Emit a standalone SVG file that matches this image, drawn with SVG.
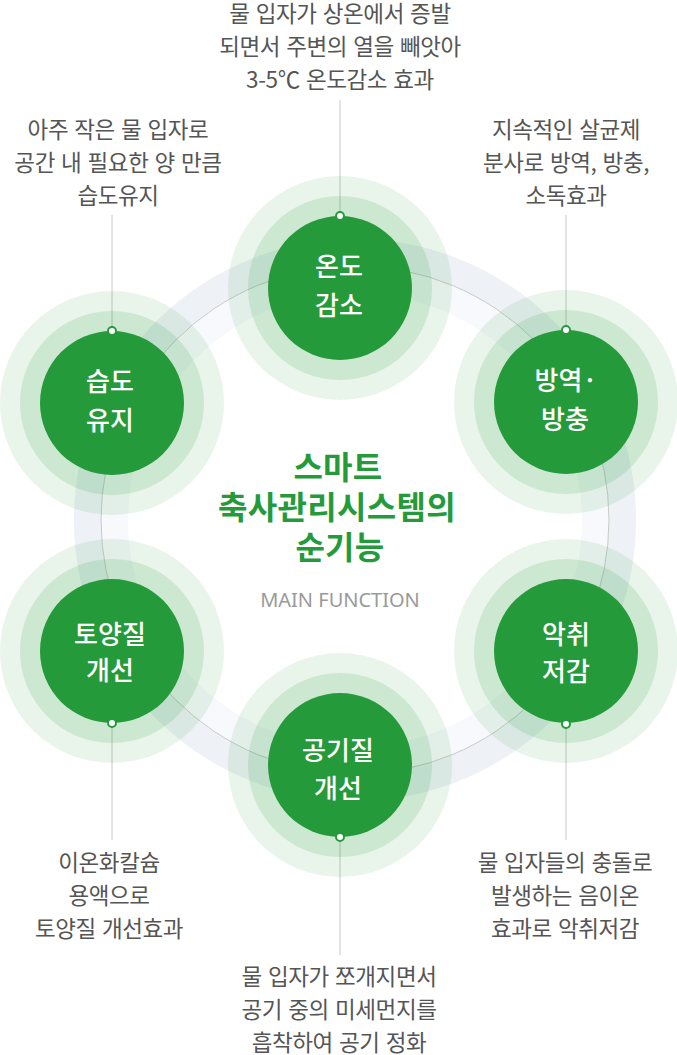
<svg xmlns="http://www.w3.org/2000/svg" width="677" height="1055" viewBox="0 0 677 1055">
<style>
.d{font-family:"Noto Sans CJK KR","Noto Sans",sans-serif;font-size:22.5px;fill:#555;letter-spacing:-0.4px;word-spacing:1.5px;text-anchor:middle}
.n{font-family:"Noto Sans CJK KR","Noto Sans",sans-serif;font-size:26px;font-weight:500;fill:#fff;text-anchor:middle}
.t{font-family:"Noto Sans CJK KR","Noto Sans",sans-serif;font-size:32px;font-weight:700;fill:#259a3b;text-anchor:middle;letter-spacing:0.3px}
.m{font-family:"Noto Sans","Liberation Sans",sans-serif;font-size:20px;fill:#9a9a9a;text-anchor:middle}
.h1{fill:#259a3b;fill-opacity:.1}
.h2{fill:#259a3b;fill-opacity:.14}
.c{fill:#259a3b}
.dot{fill:#fff;stroke:#259a3b;stroke-width:2}
.ln{stroke:#c8c8c8;stroke-width:1;fill:none}
</style>
<rect width="677" height="1055" fill="#fff"/>
<g id="ring">
<circle cx="355" cy="520" r="267.5" fill="none" stroke="#eef1f6" stroke-width="27"/>
<circle cx="355" cy="520" r="240.5" fill="none" stroke="#f7f9fc" stroke-width="27"/>
<circle cx="355" cy="520" r="254" fill="none" stroke="#c9c9c9" stroke-width="1"/>
</g>
<g id="connectors">
<line class="ln" x1="340" y1="100" x2="340" y2="212"/>
<line class="ln" x1="112" y1="215" x2="112" y2="327"/>
<line class="ln" x1="566" y1="215" x2="566" y2="326"/>
<line class="ln" x1="112" y1="727" x2="112" y2="840"/>
<line class="ln" x1="566" y1="728" x2="566" y2="840"/>
<line class="ln" x1="340" y1="841" x2="340" y2="955"/>
</g>
<g id="node-temp">
<circle class="h1" cx="340" cy="288" r="112"/>
<circle class="h2" cx="340" cy="288" r="92"/>
<circle class="c" cx="340" cy="288" r="72"/>
<circle class="dot" cx="340" cy="216" r="4"/>
<text class="n" x="339" y="276">온도</text>
<text class="n" x="339" y="315">감소</text>
</g>
<g id="node-humidity">
<circle class="h1" cx="112" cy="403" r="112"/>
<circle class="h2" cx="112" cy="403" r="92"/>
<circle class="c" cx="112" cy="403" r="72"/>
<circle class="dot" cx="112" cy="331" r="4"/>
<text class="n" x="110" y="391">습도</text>
<text class="n" x="110" y="430">유지</text>
</g>
<g id="node-pest">
<circle class="h1" cx="566" cy="402" r="112"/>
<circle class="h2" cx="566" cy="402" r="92"/>
<circle class="c" cx="566" cy="402" r="72"/>
<circle class="dot" cx="566" cy="330" r="4"/>
<text class="n" x="566" y="390">방역·</text>
<text class="n" x="565" y="429">방충</text>
</g>
<g id="node-soil">
<circle class="h1" cx="112" cy="651" r="112"/>
<circle class="h2" cx="112" cy="651" r="92"/>
<circle class="c" cx="112" cy="651" r="72"/>
<circle class="dot" cx="112" cy="723" r="4"/>
<text class="n" x="110" y="644">토양질</text>
<text class="n" x="110" y="680">개선</text>
</g>
<g id="node-odor">
<circle class="h1" cx="566" cy="651" r="112"/>
<circle class="h2" cx="566" cy="651" r="92"/>
<circle class="c" cx="566" cy="651" r="72"/>
<circle class="dot" cx="566" cy="724" r="4"/>
<text class="n" x="566" y="644">악취</text>
<text class="n" x="566" y="681">저감</text>
</g>
<g id="node-air">
<circle class="h1" cx="340" cy="765" r="112"/>
<circle class="h2" cx="340" cy="765" r="92"/>
<circle class="c" cx="340" cy="765" r="72"/>
<circle class="dot" cx="340" cy="837" r="4"/>
<text class="n" x="338" y="760">공기질</text>
<text class="n" x="338" y="798">개선</text>
</g>
<g id="center">
<text class="t" x="338" y="479">스마트</text>
<text class="t" x="337" y="519">축사관리시스템의</text>
<text class="t" x="340" y="559">순기능</text>
<text class="m" x="340" y="607">MAIN FUNCTION</text>
</g>
<g id="desc">
<text class="d" x="340" y="22">물 입자가 상온에서 증발</text>
<text class="d" x="340" y="55">되면서 주변의 열을 빼앗아</text>
<text class="d" x="340" y="88">3-5℃ 온도감소 효과</text>
<text class="d" x="118" y="138">아주 작은 물 입자로</text>
<text class="d" x="118" y="171">공간 내 필요한 양 만큼</text>
<text class="d" x="118" y="204">습도유지</text>
<text class="d" x="566" y="138">지속적인 살균제</text>
<text class="d" x="566" y="171">분사로 방역, 방충,</text>
<text class="d" x="566" y="204">소독효과</text>
<text class="d" x="109" y="871">이온화칼슘</text>
<text class="d" x="109" y="904">용액으로</text>
<text class="d" x="109" y="937">토양질 개선효과</text>
<text class="d" x="565" y="871">물 입자들의 충돌로</text>
<text class="d" x="565" y="904">발생하는 음이온</text>
<text class="d" x="565" y="937">효과로 악취저감</text>
<text class="d" x="339" y="985">물 입자가 쪼개지면서</text>
<text class="d" x="339" y="1018">공기 중의 미세먼지를</text>
<text class="d" x="339" y="1051">흡착하여 공기 정화</text>
</g>
</svg>
